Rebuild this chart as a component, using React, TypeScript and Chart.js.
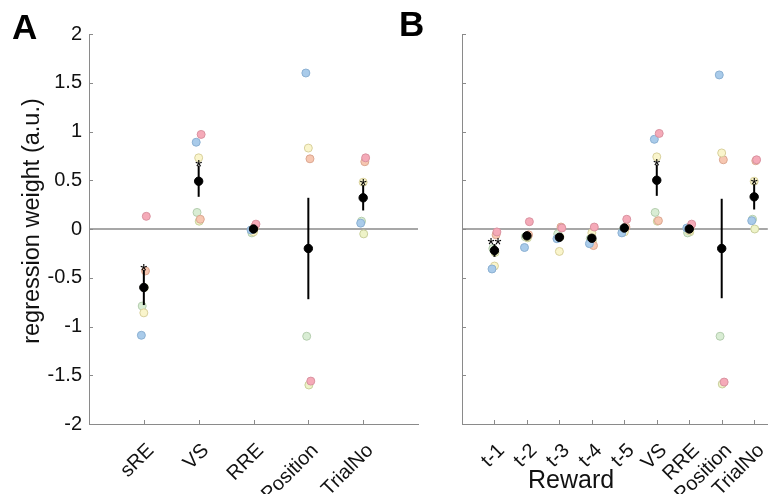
import React, { useEffect, useRef } from "react";
import { Chart, registerables } from "chart.js";
Chart.register(...registerables);

// ---------- Subjects ----------
const SUBJECT_FILL = ["#f5aab8", "#a9cbea", "#faf5cc", "#f7c7b1", "#d9edd4", "#eef3c8"];
const SUBJECT_EDGE = ["#d992a0", "#8bb0d2", "#d8d09c", "#dba791", "#b4cdae", "#c9cf9c"];
const SUBJECT_JITTER = [0.045, -0.045, 0.0, 0.03, -0.03, 0.01];

// ---------- Panel A ----------
const A_LABELS = ["sRE", "VS", "RRE", "Position", "TrialNo"];
const A_S1 = [0.13, 0.97, 0.05, -1.56, 0.73];
const A_S2 = [-1.09, 0.89, -0.01, 1.6, 0.06];
const A_S3 = [-0.86, 0.73, -0.03, 0.83, 0.48];
const A_S4 = [-0.43, 0.1, 0.03, 0.72, 0.69];
const A_S5 = [-0.79, 0.17, -0.04, -1.1, 0.08];
const A_S6 = [-0.6, 0.08, 0.0, -1.6, -0.05];
const A_MEAN = [-0.6, 0.49, 0.0, -0.2, 0.32];
const A_SEM = [0.18, 0.16, 0.02, 0.52, 0.13];
const A_STARS = ["*", "*", "", "", "*"];

// ---------- Panel B ----------
const B_LABELS = ["t-1", "t-2", "t-3", "t-4", "t-5", "VS", "RRE", "Position", "TrialNo"];
const B_S1 = [-0.03, 0.075, 0.01, 0.02, 0.1, 0.98, 0.05, -1.57, 0.71];
const B_S2 = [-0.41, -0.19, -0.1, -0.15, -0.04, 0.92, 0.01, 1.58, 0.085];
const B_S3 = [-0.38, -0.08, -0.23, -0.04, -0.03, 0.74, -0.02, 0.78, 0.49];
const B_S4 = [-0.06, -0.06, 0.02, -0.17, 0.02, 0.085, 0.03, 0.71, 0.7];
const B_S5 = [-0.2, -0.08, -0.05, -0.1, -0.02, 0.17, -0.04, -1.1, 0.1];
const B_S6 = [-0.24, -0.09, -0.08, -0.12, 0.0, 0.08, -0.03, -1.59, 0.0];
const B_MEAN = [-0.22, -0.07, -0.085, -0.095, 0.01, 0.5, 0.0, -0.2, 0.33];
const B_SEM = [0.065, 0.02, 0.03, 0.03, 0.02, 0.16, 0.02, 0.51, 0.13];
const B_STARS = ["**", "", "", "", "", "*", "", "", "*"];

const Y_MIN = -2;
const Y_MAX = 2;
const FONT = "Arial, 'Liberation Sans', Helvetica, sans-serif";
const AXIS_GREY = "#8a8a8a";

type PanelSpec = {
  labels: string[];
  subjects: number[][];
  mean: number[];
  sem: number[];
  stars: string[];
  xMax: number;
  jitterScale: number;
  yAxisWidth: number;
  showY: boolean;
  padRight: number;
};

function decorPlugin(spec: PanelSpec) {
  return {
    id: "decor",
    beforeDatasetsDraw(chart: any) {
      const { ctx, chartArea: a, scales } = chart;
      const x = scales.x;
      const y = scales.y;
      ctx.save();
      const y0 = y.getPixelForValue(0);
      ctx.strokeStyle = AXIS_GREY;
      ctx.lineWidth = 1.5;
      ctx.beginPath();
      ctx.moveTo(a.left, y0);
      ctx.lineTo(a.right, y0);
      ctx.stroke();
      ctx.lineWidth = 1;
      for (const t of y.ticks) {
        const py = Math.round(y.getPixelForValue(t.value)) + 0.5;
        ctx.beginPath();
        ctx.moveTo(a.left, py);
        ctx.lineTo(a.left + 4, py);
        ctx.stroke();
      }
      for (const t of x.ticks) {
        const px = Math.round(x.getPixelForValue(t.value)) + 0.5;
        ctx.beginPath();
        ctx.moveTo(px, a.bottom);
        ctx.lineTo(px, a.bottom - 4);
        ctx.stroke();
      }
      ctx.restore();
    },
    afterDatasetsDraw(chart: any) {
      const { ctx, scales } = chart;
      const x = scales.x;
      const y = scales.y;
      ctx.save();
      ctx.strokeStyle = "#000";
      ctx.lineWidth = 2;
      spec.mean.forEach((m, i) => {
        const px = x.getPixelForValue(i + 1);
        const top = y.getPixelForValue(m + spec.sem[i]);
        const bot = y.getPixelForValue(m - spec.sem[i]);
        ctx.beginPath();
        ctx.moveTo(px, top);
        ctx.lineTo(px, bot);
        ctx.stroke();
        if (spec.stars[i]) {
          ctx.fillStyle = "#000";
          ctx.font = `18px ${FONT}`;
          ctx.textAlign = "center";
          ctx.textBaseline = "alphabetic";
          ctx.fillText(spec.stars[i], px, top + 7);
        }
      });
      ctx.restore();
    },
  };
}

function makeChart(canvas: HTMLCanvasElement, spec: PanelSpec) {
  const datasets: any[] = spec.subjects.map((vals, k) => ({
    label: `S${k + 1}`,
    data: vals.map((v, i) => ({ x: i + 1 + SUBJECT_JITTER[k] * spec.jitterScale, y: v })),
    backgroundColor: SUBJECT_FILL[k],
    borderColor: SUBJECT_EDGE[k],
    borderWidth: 1,
    pointRadius: 4,
    order: 1,
  }));
  datasets.push({
    label: "mean",
    data: spec.mean.map((v, i) => ({ x: i + 1, y: v })),
    backgroundColor: "#000",
    borderColor: "#000",
    borderWidth: 1,
    pointRadius: 4.2,
    order: 0,
  });
  return new Chart(canvas, {
    type: "scatter",
    data: { datasets },
    plugins: [decorPlugin(spec)],
    options: {
      animation: false,
      responsive: false,
      maintainAspectRatio: false,
      events: [],
      layout: { padding: { left: 0, top: 34, right: spec.padRight, bottom: 0 } },
      plugins: { legend: { display: false }, tooltip: { enabled: false } },
      scales: {
        x: {
          type: "linear",
          min: 0,
          max: spec.xMax,
          afterBuildTicks: (s: any) => {
            s.ticks = spec.labels.map((_, i) => ({ value: i + 1 }));
          },
          afterFit: (s: any) => {
            s.height = 70;
            s.paddingLeft = 0;
            s.paddingRight = 0;
          },
          grid: { display: false, drawTicks: false },
          border: { display: true, color: AXIS_GREY, width: 1 },
          ticks: {
            autoSkip: false,
            minRotation: 45,
            maxRotation: 45,
            padding: 15,
            labelOffset: 7,
            color: "#111",
            font: { family: FONT, size: 20 },
            callback: (v: any) => spec.labels[Math.round(Number(v)) - 1] ?? "",
          },
        },
        y: {
          type: "linear",
          min: Y_MIN,
          max: Y_MAX,
          afterFit: (s: any) => {
            s.width = spec.yAxisWidth;
            s.paddingTop = 0;
            s.paddingBottom = 0;
          },
          grid: { display: false, drawTicks: false },
          border: { display: true, color: AXIS_GREY, width: 1 },
          ticks: {
            display: spec.showY,
            stepSize: 0.5,
            padding: 7,
            color: "#111",
            font: { family: FONT, size: 20 },
            callback: (v: any) => String(Number(v)),
          },
        },
      },
    } as any,
  });
}

export default function App() {
  const refA = useRef<HTMLCanvasElement>(null);
  const refB = useRef<HTMLCanvasElement>(null);

  useEffect(() => {
    const a = makeChart(refA.current!, {
      labels: A_LABELS,
      subjects: [A_S1, A_S2, A_S3, A_S4, A_S5, A_S6],
      mean: A_MEAN,
      sem: A_SEM,
      stars: A_STARS,
      xMax: 6,
      jitterScale: 1,
      yAxisWidth: 89,
      showY: true,
      padRight: 12,
    });
    const b = makeChart(refB.current!, {
      labels: B_LABELS,
      subjects: [B_S1, B_S2, B_S3, B_S4, B_S5, B_S6],
      mean: B_MEAN,
      sem: B_SEM,
      stars: B_STARS,
      xMax: 9.42,
      jitterScale: 1.67,
      yAxisWidth: 32,
      showY: false,
      padRight: 0,
    });
    return () => {
      a.destroy();
      b.destroy();
    };
  }, []);

  return (
    <div
      style={{
        position: "absolute",
        left: 0,
        top: 0,
        width: 773,
        height: 494,
        overflow: "hidden",
        background: "#fff",
        fontFamily: FONT,
      }}
    >
      <canvas ref={refA} width={430} height={494} style={{ position: "absolute", left: 0, top: 0, width: 430, height: 494 }} />
      <canvas ref={refB} width={343} height={494} style={{ position: "absolute", left: 430, top: 0, width: 343, height: 494 }} />
      <div
        style={{
          position: "absolute",
          left: 31,
          top: 221,
          transform: "translate(-50%, -50%) rotate(-90deg)",
          whiteSpace: "nowrap",
          fontSize: 23.5,
          color: "#111",
          lineHeight: "26px",
        }}
      >
        regression weight (a.u.)
      </div>
      <div style={{ position: "absolute", left: 12, top: 8, fontSize: 35, fontWeight: "bold", color: "#000", lineHeight: "38px" }}>A</div>
      <div style={{ position: "absolute", left: 399, top: 5, fontSize: 35, fontWeight: "bold", color: "#000", lineHeight: "38px" }}>B</div>
      <div style={{ position: "absolute", left: 528, top: 465, fontSize: 25, color: "#111", lineHeight: "28px" }}>Reward</div>
    </div>
  );
}
